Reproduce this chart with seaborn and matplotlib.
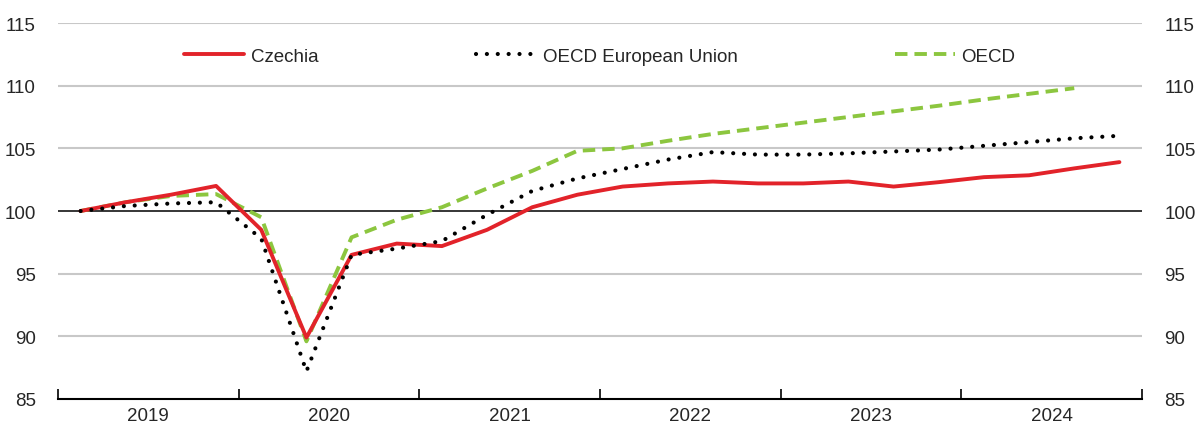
import numpy as np
import pandas as pd
import matplotlib
matplotlib.use("Agg")
import matplotlib.pyplot as plt
import seaborn as sns

###############################################################################

years = ['2019', '2020', '2021', '2022', '2023', '2024']
quarters = ['%sQ%d' % (yy, qq) for yy in years for qq in range(1, 5)]

czechia = [100.0, 100.7, 101.3, 102.0, 98.5, 89.9, 96.5, 97.4,
           97.2, 98.5, 100.3, 101.3, 101.95, 102.2, 102.35, 102.2,
           102.2, 102.35, 101.95, 102.3, 102.7, 102.85, 103.4, 103.9]

oecd_eu = [100.0, 100.4, 100.6, 100.7, 97.8, 87.2, 96.5, 97.0,
           97.6, 99.7, 101.6, 102.6, 103.35, 104.1, 104.7, 104.5,
           104.5, 104.6, 104.75, 104.9, 105.2, 105.5, 105.8, 106.0]

# OECD series stops at 2024Q3
oecd = [100.0, 100.7, 101.2, 101.35, 99.5, 89.6, 97.9, 99.3,
        100.3, 101.8, 103.2, 104.8, 105.0, 105.6, 106.15, 106.6,
        107.05, 107.5, 107.95, 108.4, 108.9, 109.35, 109.8]

y_ticks = [85, 90, 95, 100, 105, 110, 115]

###############################################################################

if __name__ == "__main__":

    sns.set_style('white')
    plt.rcParams['font.family'] = ['Liberation Sans', 'DejaVu Sans']

    idx = np.arange(len(quarters))

    fig = plt.figure(figsize=(11.95, 4.27), dpi=100)
    ax = fig.add_axes([58 / 1195, 1 - 400 / 427, 1084 / 1195, 376 / 427])

    # grid lines
    for yy in y_ticks:
        if yy == 100:
            ax.axhline(yy, color='black', lw=1.1, zorder=1)
        elif yy != 85:
            ax.axhline(yy, color='#c8c8c8', lw=1.5, zorder=0)

    sns.lineplot(x=idx, y=czechia, ax=ax, color='#e2232a', lw=2.8,
                 label='Czechia', zorder=3)
    sns.lineplot(x=idx, y=oecd_eu, ax=ax, color='black', lw=3.0,
                 linestyle=(0, (0.01, 2.6)), dash_capstyle='round',
                 label='OECD European Union', zorder=4)
    sns.lineplot(x=idx[:len(oecd)], y=oecd, ax=ax, color='#8cc63f', lw=2.8,
                 linestyle=(0, (3.2, 1.8)), label='OECD', zorder=2)

    ax.set_xlim(-0.5, len(quarters) - 0.5)
    ax.set_ylim(85, 115)
    ax.set_yticks(y_ticks)
    ax.tick_params(axis='y', length=0, labelsize=13.5, pad=16,
                   labelleft=True, labelright=True)

    # year boundaries as major ticks, year names on minor ticks
    ax.set_xticks(np.arange(-0.5, len(quarters), 4))
    ax.set_xticklabels([])
    ax.set_xticks(np.arange(1.5, len(quarters), 4), minor=True)
    ax.set_xticklabels(years, minor=True)
    ax.tick_params(axis='x', which='major', direction='in', length=7,
                   width=1.2, color='black', bottom=True)
    ax.tick_params(axis='x', which='minor', length=0, labelsize=13.5, pad=6)

    for side in ['left', 'right', 'top']:
        ax.spines[side].set_visible(False)
    ax.spines['bottom'].set_color('black')
    ax.spines['bottom'].set_linewidth(1.5)

    ax.set_xlabel('')
    ax.set_ylabel('')

    ax.legend(loc='center', bbox_to_anchor=(0.5, 0.912), ncol=3,
              frameon=False, fontsize=13.5, handlelength=3.2,
              handletextpad=0.35, columnspacing=8.4)

    plt.savefig('out.png', dpi=100)
